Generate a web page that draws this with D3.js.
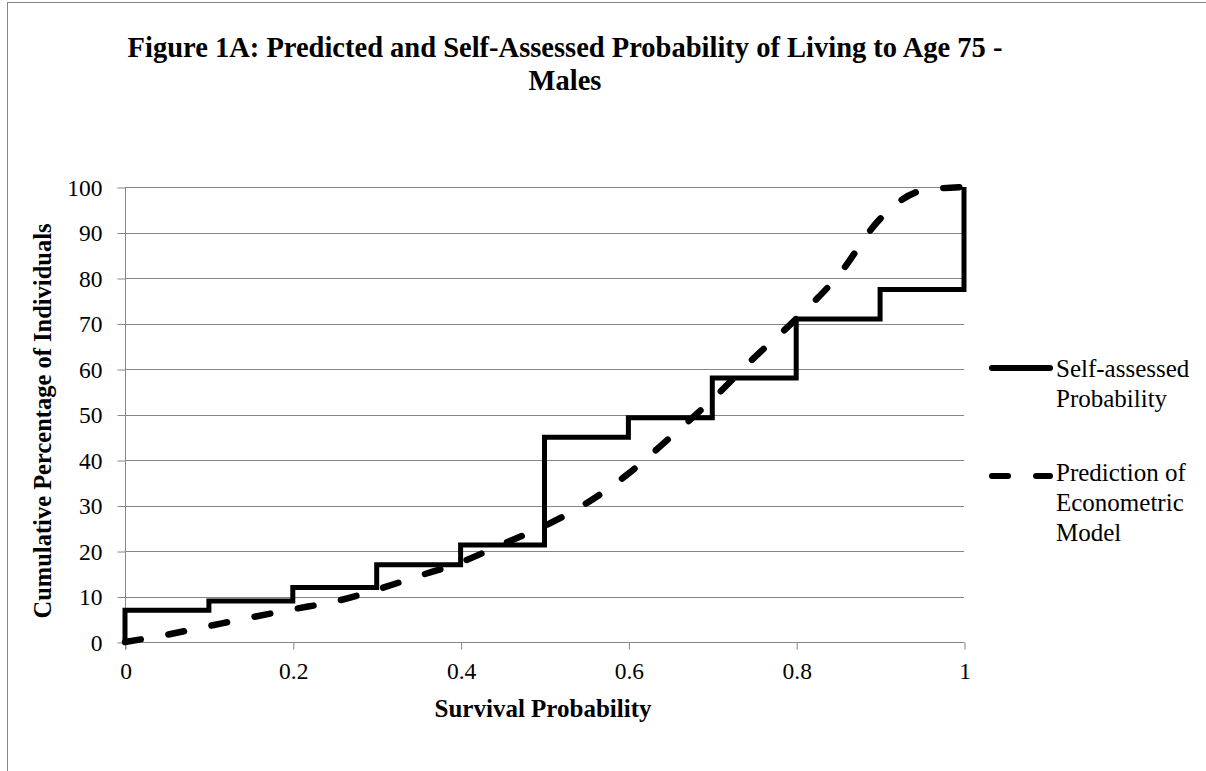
<!DOCTYPE html>
<html><head><meta charset="utf-8">
<script src="https://cdn.jsdelivr.net/npm/d3@7"></script>
<style>body{margin:0;background:#fff}svg{display:block}text{font-family:"Liberation Serif","Times New Roman",serif;fill:#000}</style>
</head><body>
<svg id="c" width="1206" height="771"></svg>
<script>
const titleLines = ["Figure 1A: Predicted and Self-Assessed Probability of Living to Age 75 -", "Males"];
const xTicks = [0, 0.2, 0.4, 0.6, 0.8, 1];
const xTickLabels = ["0", "0.2", "0.4", "0.6", "0.8", "1"];
const yTicks = [0, 10, 20, 30, 40, 50, 60, 70, 80, 90, 100];
// Self-assessed probability: cumulative percentage (step function)
const selfX = [0, 0, 0.1, 0.2, 0.3, 0.4, 0.5, 0.6, 0.7, 0.8, 0.9, 1.0];
const selfY = [0, 7, 9, 12, 17, 21.3, 45, 49.3, 58, 71, 77.5, 100];
// Prediction of econometric model
const predX = [0, 0.05, 0.1, 0.15, 0.2, 0.25, 0.3, 0.35, 0.4, 0.45, 0.5, 0.55, 0.6, 0.65, 0.7, 0.75, 0.8, 0.85, 0.9, 0.95, 1.0];
const predY = [0, 1.6, 3.5, 5.4, 7.2, 8.9, 11.5, 14.5, 17.5, 21.5, 25.5, 30.5, 37, 45, 53.3, 62.5, 71, 80.5, 93, 99.2, 100];
const seriesNames = ["Self-assessed\nProbability", "Prediction of\nEconometric\nModel"];

const svg = d3.select("#c");
const m = {l:125, r:964, t:187, b:642};
const x = d3.scaleLinear().domain([0,1]).range([m.l, m.r]);
const y = d3.scaleLinear().domain([0,100]).range([m.b, m.t]);
const grey = "#868686";

// outer frame
svg.append("rect").attr("x",7.5).attr("y",2.5).attr("width",1300).attr("height",1000)
  .attr("fill","none").attr("stroke",grey).attr("stroke-width",1);

// title
svg.append("text").attr("text-anchor","middle")
  .attr("font-size",28.5).attr("font-weight","bold")
  .selectAll("tspan").data(titleLines).join("tspan")
  .attr("x",565).attr("y",(d,i)=>57+i*33).text(d=>d);

// gridlines
svg.append("g").selectAll("line").data(yTicks).join("line")
  .attr("x1",m.l).attr("x2",m.r).attr("y1",d=>Math.round(y(d))+0.5).attr("y2",d=>Math.round(y(d))+0.5)
  .attr("stroke",grey).attr("stroke-width",1);

// y axis
const ya = svg.append("g").attr("transform",`translate(${m.l+0.5},0.5)`)
  .call(d3.axisLeft(y).tickValues(yTicks).tickSize(8).tickPadding(15).tickFormat(d3.format("d")));
ya.select(".domain").attr("stroke",grey).attr("d",`M0,${y(100)}V${y(0)+7}`);
ya.selectAll(".tick line").attr("stroke",grey);
ya.selectAll(".tick text").attr("font-size",23.5).attr("font-family","Liberation Serif").attr("fill","#000");

// x axis
const xa = svg.append("g").attr("transform",`translate(0.5,${m.b+0.5})`)
  .call(d3.axisBottom(x).tickValues(xTicks).tickSize(7).tickPadding(13).tickFormat((d,i)=>xTickLabels[i]));
xa.select(".domain").attr("stroke",grey).attr("d",`M${x(0)},0H${x(1)}`);
xa.selectAll(".tick line").attr("stroke",grey);
xa.selectAll(".tick text").attr("font-size",23.5).attr("font-family","Liberation Serif").attr("fill","#000");

// axis titles
svg.append("text").attr("x",543).attr("y",717).attr("text-anchor","middle")
  .attr("font-size",25).attr("font-weight","bold").text("Survival Probability");
svg.append("text").attr("transform","translate(51,421) rotate(-90)").attr("text-anchor","middle")
  .attr("font-size",24.5).attr("font-weight","bold").text("Cumulative Percentage of Individuals");

// series
const selfData = selfX.map((v,i)=>[v, selfY[i]]);
const predData = predX.map((v,i)=>[v, predY[i]]);
svg.append("path").datum(predData)
  .attr("d", d3.line().x(d=>x(d[0])).y(d=>y(d[1])).curve(d3.curveMonotoneX))
  .attr("fill","none").attr("stroke","#000").attr("stroke-width",6.5)
  .attr("stroke-linecap","round").attr("stroke-dasharray","16,28");
svg.append("path").datum(selfData)
  .attr("d", d3.line().x(d=>x(d[0])).y(d=>y(d[1])).curve(d3.curveStepAfter))
  .attr("fill","none").attr("stroke","#000").attr("stroke-width",5)
  .attr("stroke-linejoin","miter");

// legend
const leg = svg.append("g");
leg.append("line").attr("x1",992).attr("x2",1050).attr("y1",368).attr("y2",368)
  .attr("stroke","#000").attr("stroke-width",6).attr("stroke-linecap","round");
leg.append("line").attr("x1",992).attr("x2",1050).attr("y1",476).attr("y2",476)
  .attr("stroke","#000").attr("stroke-width",6).attr("stroke-linecap","round")
  .attr("stroke-dasharray","16,28");
[[0,377],[1,481]].forEach(([i,yy])=>{
  leg.append("text").attr("font-size",25)
    .selectAll("tspan").data(seriesNames[i].split("\n")).join("tspan")
    .attr("x",1056).attr("y",(d,j)=>yy+j*30).text(d=>d);
});
</script>
</body></html>
